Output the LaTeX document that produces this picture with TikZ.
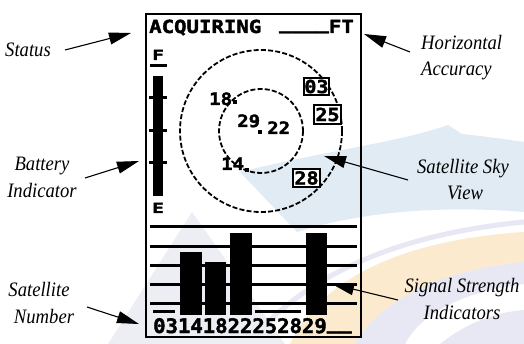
\documentclass[tikz,border=0pt]{standalone}
\usepackage{fontspec}
\usetikzlibrary{arrows.meta}
\newfontfamily\labfont[FakeStretch=0.91]{Liberation Serif}
\newfontfamily\lcdA[FakeStretch=1.15,FakeBold=2]{DejaVu Sans Mono}
\newfontfamily\lcdB[FakeStretch=1.03,FakeBold=2]{DejaVu Sans Mono}
\newfontfamily\lcdC[FakeStretch=1.12,FakeBold=2]{DejaVu Sans Mono}
\newfontfamily\lcdD[FakeStretch=1.40,FakeBold=2]{DejaVu Sans Mono}
\definecolor{wmblue}{RGB}{224,235,243}
\definecolor{wmorange}{RGB}{252,234,207}
\definecolor{wmlav}{RGB}{231,232,243}
\definecolor{wmgray}{RGB}{237,238,243}
\begin{document}
\begin{tikzpicture}[x=1pt,y=-1pt,
  arr/.style={line width=1.1pt,-{Triangle[length=22pt,width=12pt]}},
  lab/.style={font=\fontsize{20.5}{24}\selectfont\labfont\itshape,inner sep=0pt,anchor=base},
  lcdt/.style={font=\fontsize{18}{18}\selectfont\lcdA\bfseries,inner sep=0pt},
  lcdb/.style={font=\fontsize{20}{20}\selectfont\lcdB\bfseries,inner sep=0pt},
  lcds/.style={font=\fontsize{17}{17}\selectfont\lcdC\bfseries,inner sep=0pt},
  lcdf/.style={font=\fontsize{14}{14}\selectfont\lcdD\bfseries,inner sep=0pt},
  satbox/.style={draw,line width=2.4pt,fill=white,inner sep=0pt,
    font=\fontsize{18}{18}\selectfont\lcdC\bfseries},
  skycirc/.style={line width=1.8pt,dash pattern=on 5pt off 2.2pt}]
\useasboundingbox (0,0) rectangle (524,344);
\fill[white] (0,0) rectangle (524,344);
% watermark
\fill[wmgray] (192,212) -- (108,344) -- (285,344) -- cycle;
\fill[wmblue] (240,172) .. controls (320,152) and (400,142) .. (448,125)
  -- (462,134) .. controls (490,137) and (510,140) .. (524,142)
  -- (524,212) .. controls (440,205) and (360,212) .. (297,232) -- cycle;
\fill[wmorange] (290,344) .. controls (320,280) and (400,240) .. (524,232)
  -- (524,262) .. controls (440,270) and (380,300) .. (355,344) -- cycle;
\fill[wmlav] (355,344) .. controls (380,300) and (440,270) .. (524,262)
  -- (524,284) .. controls (460,292) and (420,315) .. (405,344) -- cycle;
\draw[wmlav,line width=5pt] (268,322) .. controls (330,262) and (420,232) .. (524,222);
\fill[wmlav] (440,344) .. controls (470,320) and (500,312) .. (524,310) -- (524,344) -- cycle;
% screen frame
\draw[line width=1.6pt] (146,14) rectangle (361,337);
% title line
\node[lcdt,anchor=base west] (acq) at (149,33) {ACQUIRING};
\node[lcdt,anchor=base east] (hacc) at (354,33) {\raisebox{0.22em}{\_\_\_\_}FT};
% battery
\node[lcdf,anchor=base west] (bF) at (152,60) {F};
\fill (150,64.5) rectangle (167,67);
\fill (153,76) rectangle (163,196);
\foreach \t in {97.5,130.5,162.5} \fill (149,\t-1.5) rectangle (167,\t+1.5);
\node[lcdf,anchor=base west] (bE) at (152,213) {E};
% sky view
\draw[skycirc] (261,131) circle[radius=81];
\draw[skycirc] (261,131) circle[radius=42];
\node[lcds,anchor=base west] (s18) at (209,105) {18};
\node[lcds,anchor=base west] (s29) at (237,127) {29};
\node[lcds,anchor=base west] (s22) at (267,134) {22};
\node[lcds,anchor=base west] (s14) at (221,170) {14};
\foreach \px/\py in {235/102,260/132,247/170} \fill (\px-1.6,\py-1.6) rectangle (\px+1.6,\py+1.6);
\node[satbox,minimum width=25pt,minimum height=17pt] (b03) at (316.5,86.5) {03};
\node[satbox,minimum width=27pt,minimum height=19pt] (b25) at (327.5,114.5) {25};
\node[satbox,minimum width=27pt,minimum height=18pt] (b28) at (306.5,178) {28};
% signal strength
\foreach \t in {227,247,266,285,303} \fill (150,\t-1.5) rectangle (357,\t+1.5);
\fill (180,252) rectangle (202,315);
\fill (205,262) rectangle (226,315);
\fill (230,233) rectangle (252,315);
\fill (306,233) rectangle (327,315);
\fill (153,309.5) rectangle (175,312.5);
\fill (255,309.5) rectangle (301,312.5);
\node[lcdb,anchor=base west] (nums) at (153,333) {03141822252829\raisebox{0.22em}{\_\_}};
% labels
\node[lab] (st) at (28,57) {Status};
\node[lab,anchor=base west] (ho1) at (421,50) {Horizontal};
\node[lab,anchor=base west] (ho2) at (421,76) {Accuracy};
\node[lab] (ba1) at (42,171) {Battery};
\node[lab] (ba2) at (42,198) {Indicator};
\node[lab] (sn1) at (39,297) {Satellite};
\node[lab] (sn2) at (44,323) {Number};
\node[lab] (sv1) at (463,174) {Satellite Sky};
\node[lab] (sv2) at (465,200) {View};
\node[lab] (ss1) at (462,292) {Signal Strength};
\node[lab] (ss2) at (462,319) {Indicators};
% arrows
\coordinate (stA) at (65,50);  \coordinate (stB) at (131,33);
\coordinate (hoA) at (410,52); \coordinate (hoB) at (364,34);
\coordinate (baA) at (85,178); \coordinate (baB) at (139,161);
\coordinate (snA) at (87,307); \coordinate (snB) at (139,324);
\coordinate (svA) at (408,180); \coordinate (svB) at (324,156);
\coordinate (ssA) at (398,300); \coordinate (ssB) at (332,284);
\foreach \a/\b in {stA/stB,hoA/hoB,baA/baB,snA/snB,svA/svB,ssA/ssB}
  \draw[arr] (\a) -- (\b);
\end{tikzpicture}
\end{document}
